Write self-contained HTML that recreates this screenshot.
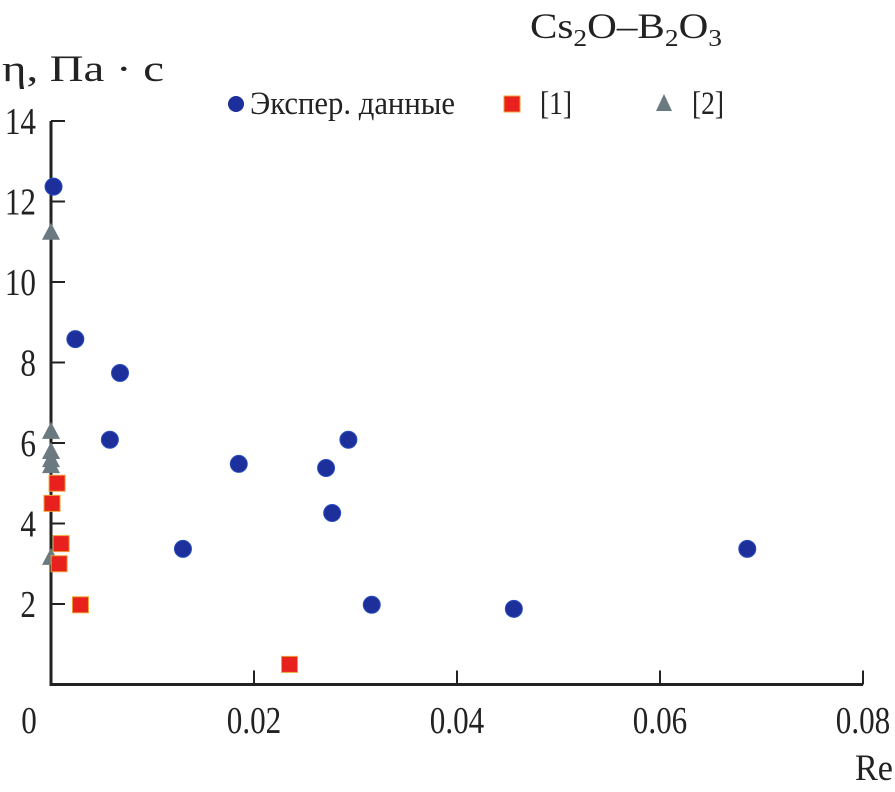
<!DOCTYPE html>
<html><head><meta charset="utf-8"><style>
body{margin:0;background:#fff}
svg{display:block;font-family:"Liberation Serif",serif}
</style></head><body>
<svg width="895" height="792">
<g id="axes"></g>
<g id="marks"></g>
<text x="530" y="38" font-size="36" fill="#222" textLength="192" lengthAdjust="spacingAndGlyphs">Cs<tspan font-size="24" dy="8">2</tspan><tspan dy="-8">O–B</tspan><tspan font-size="24" dy="8">2</tspan><tspan dy="-8">O</tspan><tspan font-size="24" dy="8">3</tspan></text>
<text x="2" y="81" font-size="37" fill="#222" textLength="162" lengthAdjust="spacingAndGlyphs">η, Па · с</text>
<text x="855" y="780" font-size="37" fill="#222" textLength="38" lengthAdjust="spacingAndGlyphs">Re</text>
<g>
<circle cx="236" cy="104" r="8" fill="#1c2f9a"/>
<text x="250" y="114" font-size="33" fill="#222" textLength="205" lengthAdjust="spacingAndGlyphs">Экспер. данные</text>
<rect x="504" y="96" width="16" height="16" fill="#e8201e" stroke="#f0a030" stroke-width="1"/>
<text x="540" y="114" font-size="33" fill="#222" textLength="32" lengthAdjust="spacingAndGlyphs">[1]</text>
<polygon points="664,94 656,111 672,111" fill="#6b7a80"/>
<text x="692" y="114" font-size="33" fill="#222" textLength="32" lengthAdjust="spacingAndGlyphs">[2]</text>
</g>
</svg>
<script>
const xTicks=[0,0.02,0.04,0.06,0.08];
const xTickLabels=["0","0.02","0.04","0.06","0.08"];
const yTicks=[2,4,6,8,10,12,14];
const yTickLabels=["2","4","6","8","10","12","14"];
const expX=[0.00025,0.0024,0.0068,0.0058,0.013,0.0185,0.0271,0.0277,0.0293,0.0316,0.0456,0.0686];
const expY=[12.37,8.58,7.74,6.08,3.37,5.48,5.38,4.26,6.08,1.98,1.88,3.37];
const ref1X=[0.0006,0.0001,0.001,0.0008,0.0029,0.0235];
const ref1Y=[5.0,4.5,3.5,3.0,1.98,0.5];
const ref2X=[0,0,0,0,0,0];
const ref2Y=[11.25,6.3,5.8,5.6,5.45,3.17];
const NS="http://www.w3.org/2000/svg";
const X0=51,XS=203/0.02,Y0=684.5,YS=40.25;
function sx(v){return X0+v*XS}
function sy(v){return Y0-v*YS}
function mk(t,a,p){const e=document.createElementNS(NS,t);for(const k in a)e.setAttribute(k,a[k]);p.appendChild(e);return e}
const ax=document.getElementById('axes'),mg=document.getElementById('marks');
let l=mk('line',{x1:X0,y1:sy(14),x2:X0,y2:Y0+1.5,stroke:'#222','stroke-width':3},ax);


l=mk('line',{x1:X0-1.5,y1:Y0,x2:863,y2:Y0,stroke:'#222','stroke-width':3},ax);


yTicks.forEach((v,i)=>{
 let t=mk('line',{x1:X0,y1:sy(v),x2:X0+14,y2:sy(v),stroke:'#222','stroke-width':2},ax);
 
 
 let tx=mk('text',{transform:`translate(${X0-15},${sy(v)+13}) scale(0.82,1)`,'font-size':38,'text-anchor':'end',fill:'#222'},ax);
 tx.textContent=yTickLabels[i];
 
 
});
xTicks.forEach((v,i)=>{
 if(v>0){let t=mk('line',{x1:sx(v),y1:Y0,x2:sx(v),y2:Y0-14,stroke:'#222','stroke-width':2},ax);
 
 }
 let tx=mk('text',{transform:`translate(${v==0?sx(v)-22:sx(v)},${733}) scale(0.82,1)`,'font-size':38,'text-anchor':'middle',fill:'#222'},ax);
 tx.textContent=xTickLabels[i];
 
 
});
ref2X.forEach((v,i)=>{const x=sx(v),y=sy(ref2Y[i]);
 let p=mk('polygon',{points:`${x},${y-9} ${x-9},${y+8} ${x+9},${y+8}`,fill:'#6b7a80'},mg);
 
 });
ref1X.forEach((v,i)=>{
 let r=mk('rect',{x:sx(v)-8,y:sy(ref1Y[i])-8,width:16,height:16,fill:'#e8201e',stroke:'#f0a030','stroke-width':1},mg);
 
 });
expX.forEach((v,i)=>{
 let c=mk('circle',{cx:sx(v),cy:sy(expY[i]),r:8.5,fill:'#1c2f9a',stroke:'#2a4fc0','stroke-width':1},mg);
 
 });
</script>
</body></html>
